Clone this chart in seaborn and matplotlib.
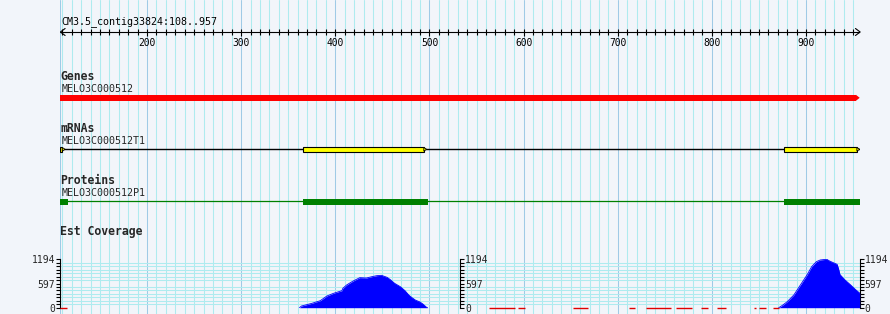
import numpy as np
import pandas as pd
import matplotlib
matplotlib.use("Agg")
import matplotlib.pyplot as plt
from matplotlib.ticker import FixedLocator
import seaborn as sns

# ---------------- data ----------------
ref_name = "CM3.5_contig33824:108..957"
view_start = 108
view_end = 957
ruler_labels = [200, 300, 400, 500, 600, 700, 800, 900]

gene_label = "Genes"
gene_name = "MELO3C000512"
gene_start = 108
gene_end = 957

mrna_label = "mRNAs"
mrna_name = "MELO3C000512T1"
mrna_exon_start = [108, 366, 877]
mrna_exon_end = [113, 497, 957]

protein_label = "Proteins"
protein_name = "MELO3C000512P1"
cds_start = [108, 366, 877]
cds_end = [116, 498, 957]

cov_label = "Est Coverage"
cov_ticks = [0, 597, 1194]
cov_max = 1194

peak1_pos = [362, 364, 375, 384, 389, 391, 398, 407, 408, 412, 416, 419, 426, 433, 439,
             444, 449, 455, 458, 463, 469, 474, 478, 481, 485, 490, 493, 497, 498]
peak1_val = [0, 41, 107, 173, 255, 288, 354, 420, 478, 560, 618, 659, 741, 733, 766,
             790, 799, 749, 700, 601, 519, 420, 313, 255, 189, 140, 91, 8, 0]
peak2_pos = [871, 875, 880, 887, 894, 901, 906, 911, 915, 918, 922, 925, 929, 933,
             934.5, 936, 941, 947, 952, 957]
peak2_val = [0, 60, 148, 313, 560, 807, 1013, 1136, 1177, 1185, 1194, 1152, 1110, 1069,
             960, 818, 693, 568, 459, 359]

low_start = [108, 563, 594, 653, 712, 730, 762, 788, 805, 845, 850, 865]
low_end = [115, 591, 601, 668, 718, 757, 779, 796, 815, 847, 858, 871]

# ---------------- style ----------------
sns.set_theme(style="white")
plt.rcParams["font.family"] = ["DejaVu Sans Mono", "DejaVu Sans"]

BG = "#F2F5FA"
MINOR_GRID = "#AEEBEF"
MAJOR_GRID = "#9FCAE6"

W, H = 890, 314
fig = plt.figure(figsize=(W / 100, H / 100), dpi=100, facecolor=BG)

x0_px, x1_px = 60.4, 859.7
ax = fig.add_axes([x0_px / W, 0, (x1_px - x0_px) / W, 1])
ax.set_facecolor(BG)
ax.set_xlim(view_start, view_end)
ax.set_ylim(H, 0)  # layout rows (pixels from top)
for s in ax.spines.values():
    s.set_visible(False)

major = [v for v in ruler_labels]
minor = [v for v in range(110, view_end, 10) if v % 100 != 0]
ax.set_xticks(major)
ax.set_xticks(minor, minor=True)
ax.tick_params(axis="both", which="both", length=0, labelbottom=False, labelleft=False)
ax.set_yticks([])
ax.grid(False)
ax.grid(True, axis="x", which="minor", color=MINOR_GRID, lw=0.75)
ax.grid(True, axis="x", which="major", color=MAJOR_GRID, lw=0.75)
ax.set_axisbelow(True)
ax.axvline(view_start, color=MAJOR_GRID, lw=0.75, zorder=0.5)

small = 7.2
bold = 8.3

# ruler
ax.text(view_start + 0.8, 23.8, ref_name, fontsize=small, ha="left", va="baseline", color="black")
ax.hlines(32, view_start, view_end, color="black", lw=0.8)
ax.vlines(minor, 29.3, 34.7, color="black", lw=0.8)
ax.vlines(major, 28.7, 36.0, color="black", lw=0.8)
for v in ruler_labels:
    ax.text(v, 46, str(v), fontsize=6.9, ha="center", va="baseline", color="black")
ax.plot([view_start + 5, view_start, view_start + 5], [28.5, 32, 35.5], color="black", lw=0.8)
ax.plot([view_end - 4.5, view_end + 0.5, view_end - 4.5], [28.5, 32, 35.5], color="black", lw=0.8,
        clip_on=False)

# genes
ax.text(view_start, 80, gene_label, fontsize=bold, fontweight="bold", ha="left", va="baseline")
ax.text(view_start + 0.8, 92.5, gene_name, fontsize=small, ha="left", va="baseline")
ax.barh(97.8, (gene_end - 4) - gene_start, left=gene_start, height=6, color="#FF0000", lw=0)
ax.fill([gene_end - 4, gene_end, gene_end - 4], [94.8, 97.8, 100.8], color="#FF0000", lw=0)

# mRNAs
ax.text(view_start, 132, mrna_label, fontsize=bold, fontweight="bold", ha="left", va="baseline")
ax.text(view_start + 0.8, 144, mrna_name, fontsize=small, ha="left", va="baseline")
ax.hlines(149.3, view_start, view_end, color="black", lw=1.0, zorder=2)
for s, e in zip(mrna_exon_start, mrna_exon_end):
    ax.barh(149.3, (e - 3) - s, left=s, height=5, color="#FFFF00", edgecolor="black", lw=0.8, zorder=3)
    ax.fill([e - 3, e, e - 3], [147.5, 149.3, 151.1], facecolor="#FFFF00", edgecolor="black",
            lw=0.6, zorder=3, clip_on=False)

# proteins
ax.text(view_start, 184, protein_label, fontsize=bold, fontweight="bold", ha="left", va="baseline")
ax.text(view_start + 0.8, 196.5, protein_name, fontsize=small, ha="left", va="baseline")
ax.hlines(200.7, view_start, view_end, color="#008000", lw=0.9, zorder=2)
ax.barh([201.8] * len(cds_start), np.array(cds_end) - np.array(cds_start), left=cds_start,
        height=6, color="#008000", lw=0, zorder=3)

# coverage
ax.text(view_start, 235.5, cov_label, fontsize=bold, fontweight="bold", ha="left", va="baseline")

y_top_px, y_bot_px = 259.3, 307.7
cax = fig.add_axes([x0_px / W, (H - y_bot_px) / H, (x1_px - x0_px) / W, (y_bot_px - y_top_px) / H])
cax.patch.set_alpha(0)
cax.set_xlim(view_start, view_end)
cax.set_ylim(0, cov_max)

for pos, val in [(peak1_pos, peak1_val), (peak2_pos, peak2_val)]:
    cax.fill_between(pos, val, 0, color="#0000FF", lw=0, zorder=3)
    sns.lineplot(x=pos, y=val, ax=cax, color="#0000FF", lw=0.6, zorder=3, sort=True)
cax.hlines([0] * len(low_start), low_start, low_end, color="#E00000", lw=1.0, zorder=4, clip_on=False)

cov_minor = list(np.linspace(0, cov_max, 15))
cax.set_yticks(cov_ticks)
cax.set_yticklabels([str(t) for t in cov_ticks])
cax.yaxis.set_minor_locator(FixedLocator(cov_minor))
cax.set_xticks([])
cax.grid(False)
cax.grid(True, axis="y", which="minor", color=MINOR_GRID, lw=0.75, zorder=0)
cax.set_axisbelow(True)
cax.set_xlabel("")
cax.set_ylabel("")
cax.tick_params(axis="y", which="both", left=True, right=True, labelleft=True, labelright=True,
                direction="out", length=3, width=0.8, color="black", labelsize=7, pad=0.6)
for side in ["top", "bottom"]:
    cax.spines[side].set_visible(False)
for side in ["left", "right"]:
    cax.spines[side].set_visible(True)
    cax.spines[side].set_color("black")
    cax.spines[side].set_linewidth(0.8)

sec = cax.secondary_yaxis(0.5)
sec.set_zorder(10)
sec.set_yticks(cov_ticks)
sec.set_yticklabels([str(t) for t in cov_ticks])
sec.yaxis.set_minor_locator(FixedLocator(cov_minor))
sec.tick_params(axis="y", which="both", direction="out", length=3, width=0.8, color="black",
                labelsize=7, pad=0.6)
for s in sec.spines.values():
    s.set_color("black")
    s.set_linewidth(0.8)

fig.savefig("out.png", dpi=100, facecolor=BG)
